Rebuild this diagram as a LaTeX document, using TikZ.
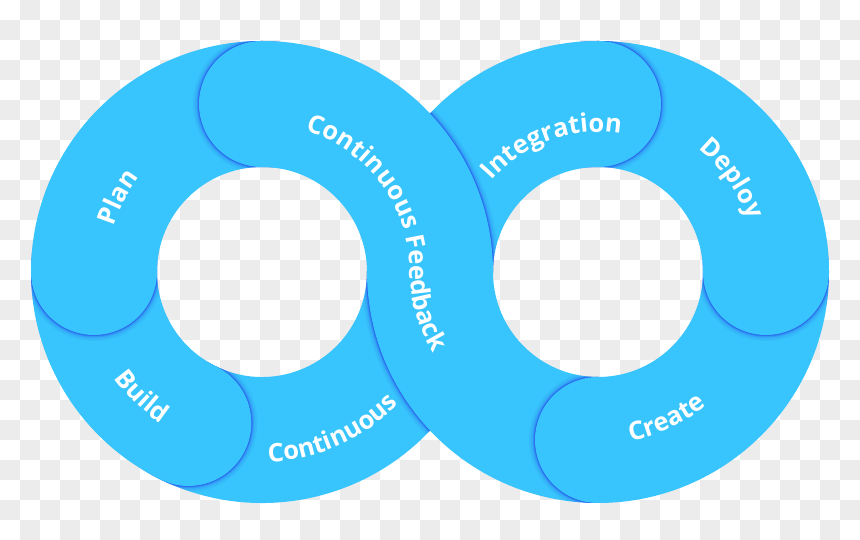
\documentclass[tikz,border=0pt]{standalone}
\usepackage{fontspec}
\newfontfamily\osans{Open Sans}
\usetikzlibrary{calc,decorations.text}
\definecolor{ringblue}{RGB}{56,196,252}
\definecolor{shadeblue}{RGB}{40,80,235}
\definecolor{checkgray}{RGB}{236,236,236}
\newcommand\lblfmt{\osans\bfseries\fontsize{25.5}{30}\selectfont}
\newcommand\ringclip[1]{\clip (#1) circle (231) (#1) circle (105);}
\newcommand\shadowring[1]{%
  \foreach \w/\o in {12/0.07,8/0.11,5/0.18,3/0.3,1.4/0.65}
    \draw[shadeblue, line width=\w pt, draw opacity=\o] #1;}
\tikzset{
  band/.style={draw=ringblue, line width=126pt, line cap=butt},
  capdisc/.style={fill=ringblue},
  lbl/.style={decorate, decoration={text along path, text align=center, text color=white, text={|\lblfmt|#1}}},
  lblleft/.style={decorate, decoration={text along path, text align=left, text color=white, text={|\lblfmt|#1}}},
}
\begin{document}
\begin{tikzpicture}[x=1pt,y=1pt]
\useasboundingbox (0,0) rectangle (860,540);
% checkerboard background
\fill[white] (0,0) rectangle (860,540);
\foreach \i in {0,...,42}{
  \foreach \j in {0,...,26}{
    \pgfmathparse{int(mod(\i+\j,2))}
    \ifnum\pgfmathresult=1
      \fill[checkgray] (20*\i,540-20*\j) rectangle (20*\i+20,520-20*\j);
    \fi
  }
}
\coordinate (L) at (262,268);
\coordinate (R) at (598,268);
\coordinate (cfCap) at ($(L)+(90:168)$);
\coordinate (planCap) at ($(L)+(180:168)$);
\coordinate (buildCap) at ($(L)+(244:168)$);
\coordinate (integCap) at ($(R)+(90:168)$);
\coordinate (deployCap) at ($(R)+(0:168)$);
\coordinate (createCap) at ($(R)+(270:168)$);
% Create
\draw[band] ($(R)+(270:168)$) arc[start angle=270, end angle=360, radius=168];
% Deploy
\begin{scope}[even odd rule]\ringclip{R}\shadowring{(deployCap) circle (63)}\end{scope}
\draw[band] ($(R)+(0:168)$) arc[start angle=0, end angle=90, radius=168];
\fill[capdisc] (deployCap) circle (63);
% Continuous + Integration strand
\begin{scope}[even odd rule]\ringclip{R}\shadowring{(integCap) circle (63)}\end{scope}
\draw[band] ($(L)+(244:168)$) arc[start angle=244, end angle=360, radius=168]
  arc[start angle=180, end angle=90, radius=168];
\fill[capdisc] (integCap) circle (63);
% crossing shadows
\begin{scope}[even odd rule]\ringclip{R}\clip (0,268) rectangle (860,540);\shadowring{(L) circle (231)}\end{scope}
\begin{scope}[even odd rule]\ringclip{L}\clip (0,0) rectangle (860,268);\shadowring{(R) circle (231)}\end{scope}
% Build
\begin{scope}[even odd rule]\ringclip{L}\shadowring{(buildCap) circle (63)}\end{scope}
\draw[band] ($(L)+(180:168)$) arc[start angle=180, end angle=244, radius=168];
\fill[capdisc] (buildCap) circle (63);
% Plan
\begin{scope}[even odd rule]\ringclip{L}\shadowring{(planCap) circle (63)}\end{scope}
\draw[band] ($(L)+(90:168)$) arc[start angle=90, end angle=180, radius=168];
\fill[capdisc] (planCap) circle (63);
% Continuous Feedback
\begin{scope}[even odd rule]\ringclip{L}\shadowring{(cfCap) circle (63)}\end{scope}
\draw[band] ($(L)+(90:168)$) arc[start angle=90, end angle=0, radius=168]
  arc[start angle=180, end angle=270, radius=168];
\fill[capdisc] (cfCap) circle (63);
% Create cap on top
\begin{scope}[even odd rule]\ringclip{R}\clip (0,0) rectangle (598,540);\shadowring{(createCap) circle (63)}\end{scope}
\fill[capdisc] (createCap) circle (63);
% labels
\path[lbl=Plan] ($(L)+(200:155)$) arc[start angle=200, end angle=105, radius=155];
\path[lbl=Build] ($(L)+(180:182)$) arc[start angle=180, end angle=272, radius=182];
\path[lbl=Continuous] ($(L)+(242:190)$) arc[start angle=242, end angle=346, radius=190];
\path[lbl=Integration] ($(R)+(152:140)$) arc[start angle=152, end angle=68, radius=140];
\path[lbl=Deploy] ($(R)+(77:159)$) arc[start angle=77, end angle=-7, radius=159];
\path[lbl=Create] ($(R)+(250:172)$) arc[start angle=250, end angle=340, radius=172];
\path[lblleft=Continuous Feedback] ($(L)+(73:148)$) arc[start angle=73, end angle=0, radius=148]
  arc[start angle=180, end angle=250, radius=150];
\end{tikzpicture}
\end{document}
